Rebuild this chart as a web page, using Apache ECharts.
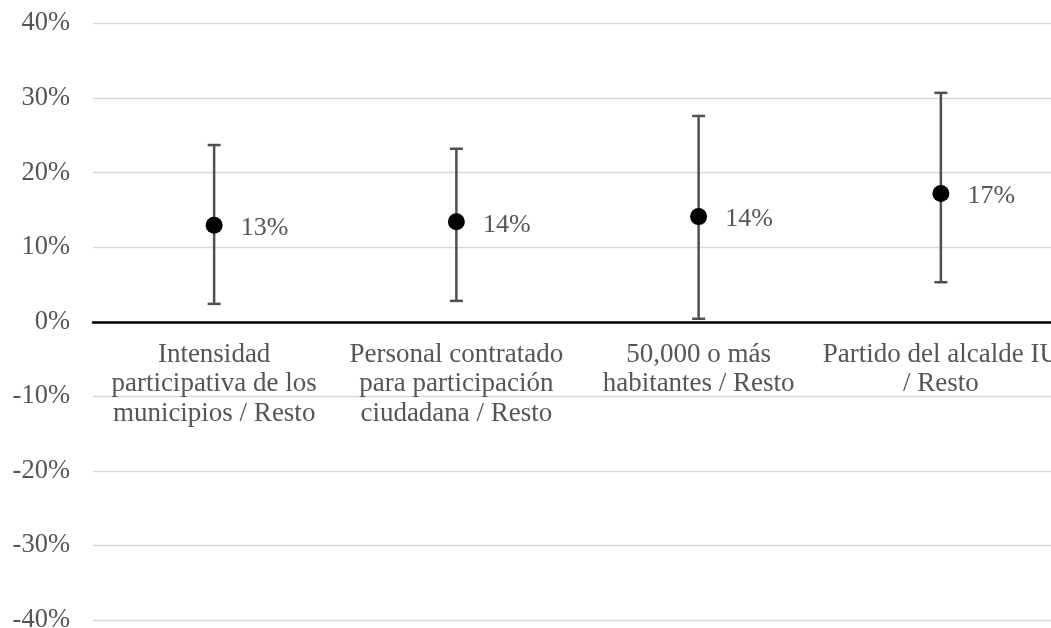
<!DOCTYPE html>
<html>
<head>
<meta charset="utf-8">
<script src="https://cdn.jsdelivr.net/npm/echarts@6/dist/echarts.min.js"></script>
<style>
html,body{margin:0;padding:0;background:#fff;}
#chart{width:1051px;height:628px;}
</style>
</head>
<body>
<div id="chart"></div>
<script>
const categories = [
  'Intensidad\nparticipativa de los\nmunicipios / Resto',
  'Personal contratado\npara participación\nciudadana / Resto',
  '50,000 o más\nhabitantes / Resto',
  'Partido del alcalde IU\n/ Resto'
];
const estimates = [12.95, 13.4, 14.1, 17.2];
const lowerBounds = [2.4, 2.8, 0.4, 5.3];
const upperBounds = [23.7, 23.2, 27.6, 30.7];
const pointLabels = ['13%', '14%', '14%', '17%'];
const yMin = -40, yMax = 40, yStep = 10;

const font = 'Liberation Serif, Times New Roman, serif';
const textColor = '#555555';

const W = 1051, H = 628;
const gridTop = 23.5, gridBottom = 8;
const plotH = H - gridTop - gridBottom;
// move the category axis (line + labels) up to the zero value
const zeroOffset = -plotH * (0 - yMin) / (yMax - yMin);

const chart = echarts.init(document.getElementById('chart'));
chart.setOption({
  animation: false,
  backgroundColor: '#fff',
  textStyle: { fontFamily: font },
  grid: { left: 93, right: -11, top: gridTop, bottom: gridBottom, containLabel: false, outerBoundsMode: 'none' },
  xAxis: {
    type: 'category',
    data: categories,
    position: 'bottom',
    offset: zeroOffset,
    axisLine: { onZero: false, lineStyle: { color: '#000', width: 2.5 } },
    axisTick: { show: false },
    axisLabel: { interval: 0, color: textColor, fontSize: 27, fontFamily: font, lineHeight: 29.5, margin: 18 },
    splitLine: { show: false }
  },
  yAxis: {
    type: 'value',
    min: yMin, max: yMax, interval: yStep,
    axisLine: { show: false },
    axisTick: { show: false },
    axisLabel: { formatter: '{value}%', color: textColor, fontSize: 26.5, fontFamily: font, margin: 23 },
    splitLine: { lineStyle: { color: '#d9d9d9', width: 1.3 } }
  },
  series: [
    {
      type: 'custom',
      z: 2,
      clip: false,
      encode: { x: 0, y: [1, 2] },
      data: categories.map((c, i) => [i, lowerBounds[i], upperBounds[i]]),
      renderItem: function (params, api) {
        const x = api.value(0);
        const lo = api.coord([x, api.value(1)]);
        const hi = api.coord([x, api.value(2)]);
        const hw = 6.5;
        const st = { stroke: '#505050', lineWidth: 2.5 };
        return {
          type: 'group',
          children: [
            { type: 'line', shape: { x1: lo[0], y1: lo[1], x2: hi[0], y2: hi[1] }, style: st },
            { type: 'line', shape: { x1: hi[0] - hw, y1: hi[1], x2: hi[0] + hw, y2: hi[1] }, style: st },
            { type: 'line', shape: { x1: lo[0] - hw, y1: lo[1], x2: lo[0] + hw, y2: lo[1] }, style: st }
          ]
        };
      }
    },
    {
      type: 'scatter',
      z: 3,
      data: estimates,
      symbol: 'circle',
      symbolSize: 17,
      itemStyle: { color: '#000', opacity: 1 },
      label: {
        show: true,
        position: 'right',
        distance: 18,
        offset: [0, 3],
        formatter: function (p) { return pointLabels[p.dataIndex]; },
        color: textColor,
        fontSize: 26,
        fontFamily: font
      }
    }
  ]
});
</script>
</body>
</html>
